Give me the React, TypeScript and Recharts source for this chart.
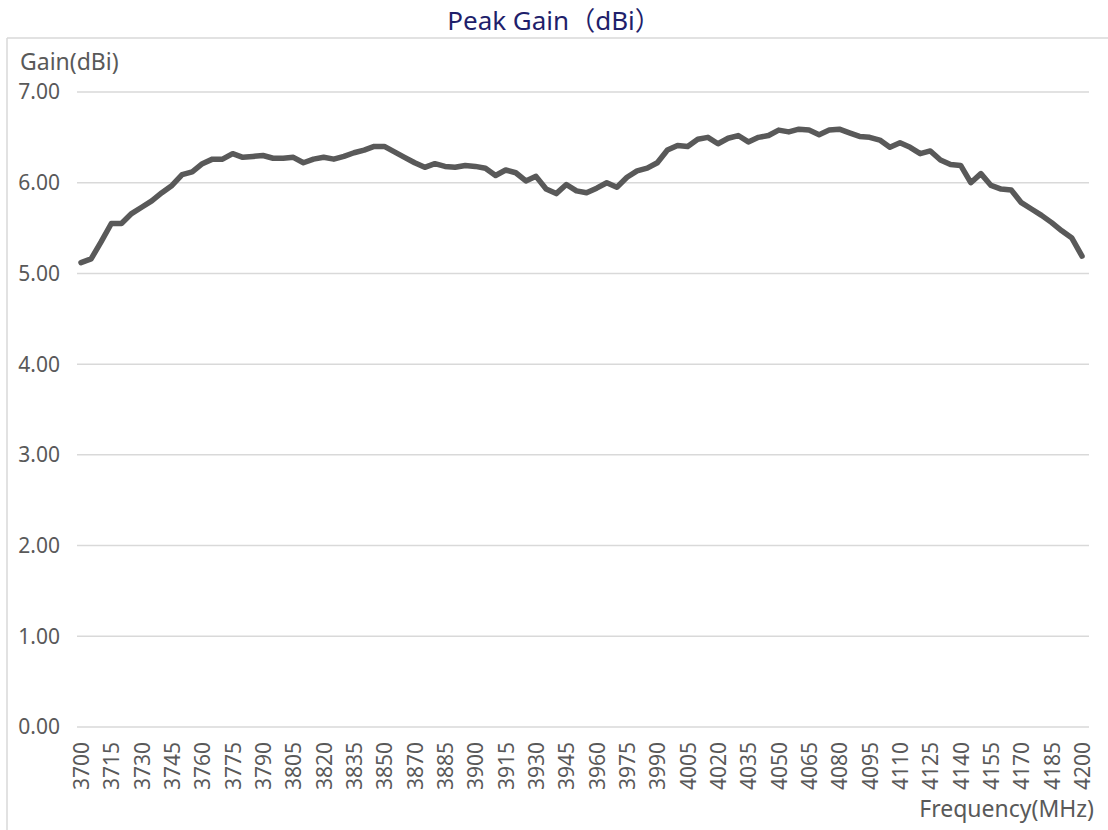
import { LineChart, Line, XAxis, YAxis, CartesianGrid } from "recharts";

const FREQ = [
  3700, 3705, 3710, 3715, 3720, 3725, 3730, 3735, 3740, 3745,
  3750, 3755, 3760, 3765, 3770, 3775, 3780, 3785, 3790, 3795,
  3800, 3805, 3810, 3815, 3820, 3825, 3830, 3835, 3840, 3845,
  3850, 3860, 3865, 3870, 3875, 3880, 3885, 3890, 3895, 3900,
  3905, 3910, 3915, 3920, 3925, 3930, 3935, 3940, 3945, 3950,
  3955, 3960, 3965, 3970, 3975, 3980, 3985, 3990, 3995, 4000,
  4005, 4010, 4015, 4020, 4025, 4030, 4035, 4040, 4045, 4050,
  4055, 4060, 4065, 4070, 4075, 4080, 4085, 4090, 4095, 4100,
  4105, 4110, 4115, 4120, 4125, 4130, 4135, 4140, 4145, 4150,
  4155, 4160, 4165, 4170, 4175, 4180, 4185, 4190, 4195, 4200,
];

const GAIN = [
  5.12, 5.16, 5.35, 5.55, 5.55, 5.66, 5.73, 5.8, 5.89, 5.97,
  6.09, 6.12, 6.21, 6.26, 6.26, 6.32, 6.28, 6.29, 6.3, 6.27,
  6.27, 6.28, 6.22, 6.26, 6.28, 6.26, 6.29, 6.33, 6.36, 6.4,
  6.4, 6.34, 6.28, 6.22, 6.17, 6.21, 6.18, 6.17, 6.19, 6.18,
  6.16, 6.08, 6.14, 6.11, 6.02, 6.07, 5.93, 5.88, 5.98, 5.91,
  5.89, 5.94, 6.0, 5.95, 6.06, 6.13, 6.16, 6.22, 6.36, 6.41,
  6.4, 6.48, 6.5, 6.43, 6.49, 6.52, 6.45, 6.5, 6.52, 6.58,
  6.56, 6.59, 6.58, 6.53, 6.58, 6.59, 6.55, 6.51, 6.5, 6.47,
  6.39, 6.44, 6.39, 6.32, 6.35, 6.25, 6.2, 6.19, 6.0, 6.1,
  5.97, 5.93, 5.92, 5.78, 5.71, 5.64, 5.56, 5.47, 5.39, 5.19,
];

const Y_TICKS = [0, 1, 2, 3, 4, 5, 6, 7];

const TITLE = "Peak Gain（dBi）";
const Y_TITLE = "Gain(dBi)";
const X_TITLE = "Frequency(MHz)";

const data = FREQ.map((f, i) => ({ freq: f, gain: GAIN[i] }));

const TEXT = "#595959";
const FONT = "'Noto Sans', 'Noto Sans CJK SC', sans-serif";

function FreqTick({ x, y, payload }: { x?: number; y?: number; payload?: { value: number } }) {
  if (x == null || y == null || !payload) return null;
  return (
    <text
      x={x}
      y={y}
      transform={`rotate(-90, ${x}, ${y})`}
      textAnchor="end"
      dominantBaseline="central"
      fill={TEXT}
      fontSize={21}
    >
      {payload.value}
    </text>
  );
}

export default function App() {
  return (
    <div
      style={{
        position: "absolute",
        left: 0,
        top: 0,
        width: 1108,
        height: 830,
        background: "#fff",
        fontFamily: FONT,
        overflow: "hidden",
      }}
    >
      <LineChart
        width={1108}
        height={830}
        data={data}
        margin={{ top: 92, right: 19, bottom: 0, left: 0 }}
      >
        <CartesianGrid stroke="#d9d9d9" strokeWidth={1.5} vertical={false} />
        <XAxis
          dataKey="freq"
          interval={2}
          axisLine={false}
          tickLine={false}
          tickSize={0}
          tickMargin={15}
          height={103}
          padding={{ left: 4, right: 7 }}
          tick={<FreqTick />}
        />
        <YAxis
          domain={[0, 7]}
          ticks={Y_TICKS}
          tickFormatter={(v: number) => v.toFixed(2)}
          axisLine={false}
          tickLine={false}
          tickSize={0}
          tickMargin={17}
          width={77}
          tick={{ fill: TEXT, fontSize: 21 }}
        />
        <Line
          type="linear"
          dataKey="gain"
          stroke="#595959"
          strokeWidth={5.5}
          strokeLinejoin="round"
          strokeLinecap="round"
          dot={false}
          isAnimationActive={false}
        />
      </LineChart>
      <svg
        width={1108}
        height={830}
        style={{ position: "absolute", left: 0, top: 0, pointerEvents: "none" }}
      >
        <line x1={7} y1={38} x2={1108} y2={38} stroke="#d9d9d9" strokeWidth={1.5} />
        <line x1={7} y1={38} x2={7} y2={830} stroke="#d9d9d9" strokeWidth={1.5} />
        <text x={554} y={30} textAnchor="middle" fill="#1f1f6b" fontSize={26}>
          {TITLE}
        </text>
        <text x={20} y={70} fill={TEXT} fontSize={23}>
          {Y_TITLE}
        </text>
        <text x={1094} y={817} textAnchor="end" fill={TEXT} fontSize={23}>
          {X_TITLE}
        </text>
      </svg>
    </div>
  );
}
